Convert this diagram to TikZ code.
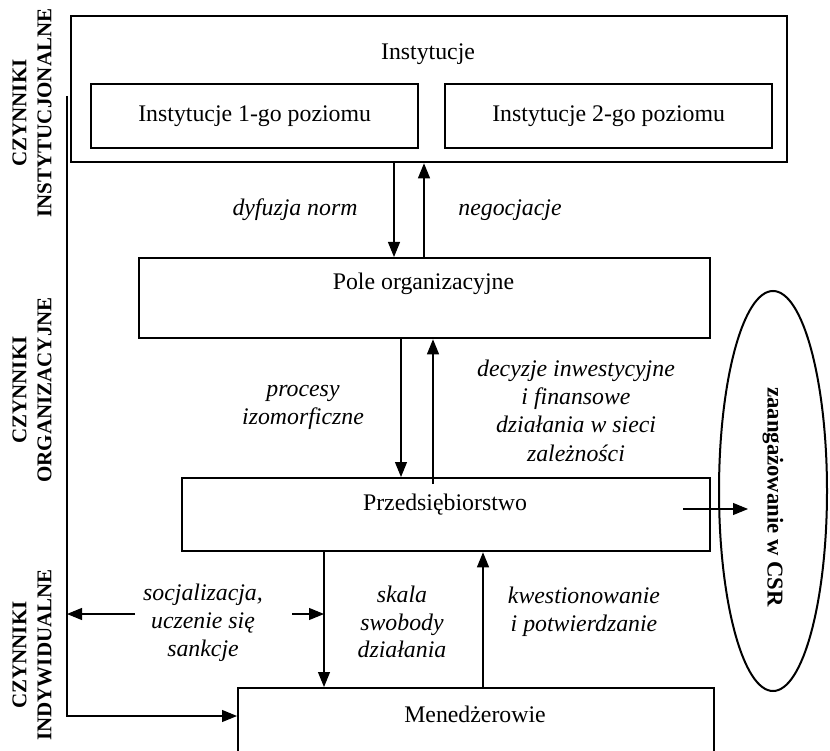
\documentclass[tikz,border=0pt]{standalone}
\usepackage{fontspec}
\setmainfont{Liberation Serif}
\usetikzlibrary{arrows.meta,shapes.geometric}
\begin{document}
\begin{tikzpicture}[x=1pt,y=-1pt,
  box/.style={draw, line width=2.3pt, rectangle, inner sep=0pt, anchor=north west,
              font=\fontsize{23.8}{28}\selectfont},
  txt/.style={inner sep=0pt, anchor=base, font=\fontsize{23.8}{28}\selectfont},
  itxt/.style={inner sep=0pt, anchor=base, font=\fontsize{23.8}{28}\selectfont\itshape},
  lab/.style={inner sep=0pt, align=center, rotate=90, font=\fontsize{21}{25}\selectfont\bfseries},
  arr/.style={line width=1.1pt, -{Triangle[length=15pt,width=12pt]}},
  ln/.style={line width=1.1pt}]
\useasboundingbox (0,0) rectangle (830,751);
\clip (0,0) rectangle (830,751);

% boxes
\node[box, minimum width=716pt, minimum height=146pt] (inst) at (70,15) {};
\node[box, minimum width=327pt, minimum height=64pt] (inst1) at (90,83) {Instytucje 1-go poziomu};
\node[box, minimum width=327pt, minimum height=64pt] (inst2) at (444,83) {Instytucje 2-go poziomu};
\node[box, minimum width=571pt, minimum height=80pt] (pole) at (138,257) {};
\node[box, minimum width=528pt, minimum height=73pt] (przed) at (181,477) {};
\node[box, minimum width=476pt, minimum height=120pt] (mened) at (237,687) {};
\node[draw, ellipse, line width=2pt, minimum width=108pt, minimum height=400pt, inner sep=0pt] (csr) at (773,491) {};

% box texts
\node[txt] (tinst) at (428,60) {Instytucje};
\node[txt] (tpole) at (423.5,290) {Pole organizacyjne};
\node[txt] (tprzed) at (445,510) {Przedsiębiorstwo};
\node[txt] (tmened) at (475,722) {Menedżerowie};
\node[inner sep=0pt, rotate=-90, font=\fontsize{22.7}{26}\selectfont\bfseries] (tcsr) at (773,497) {zaangażowanie w CSR};

% side labels
\node[lab] (l1) at (32,113) {CZYNNIKI\\INSTYTUCJONALNE};
\node[lab] (l2) at (32,390) {CZYNNIKI\\ORGANIZACYJNE};
\node[lab] (l3) at (32,655) {CZYNNIKI\\INDYWIDUALNE};

% connector labels
\node[itxt] (tdyf) at (295,216) {dyfuzja norm};
\node[itxt] (tneg) at (510,216) {negocjacje};
\node[itxt] (tpr1) at (303,396) {procesy};
\node[itxt] (tpr2) at (303,424) {izomorficzne};
\node[itxt] (td1) at (576,376) {decyzje inwestycyjne};
\node[itxt] (td2) at (576,404) {i finansowe};
\node[itxt] (td3) at (576,432) {działania w sieci};
\node[itxt] (td4) at (576,461) {zależności};
\node[itxt] (ts1) at (203,600) {socjalizacja,};
\node[itxt] (ts2) at (203,628) {uczenie się};
\node[itxt] (ts3) at (203,656) {sankcje};
\node[itxt] (tk1) at (402,602) {skala};
\node[itxt] (tk2) at (402,630) {swobody};
\node[itxt] (tk3) at (402,657) {działania};
\node[itxt] (tq1) at (584,603) {kwestionowanie};
\node[itxt] (tq2) at (584,631) {i potwierdzanie};

% connector coordinates
\coordinate (a1) at (394,0);
\coordinate (a2) at (424,0);
\coordinate (b1) at (401,0);
\coordinate (b2) at (433,0);
\coordinate (c1) at (324,0);
\coordinate (c2) at (483,0);
\coordinate (vtop) at (67,96);
\coordinate (vbot) at (67,716);
\coordinate (sl) at (135,614);
\coordinate (sr) at (292,614);
\coordinate (pout) at (683,509);
\coordinate (ptip) at (748,509);

% connectors
\draw[arr] (inst.south -| a1) -- (pole.north -| a1);
\draw[arr] (pole.north -| a2) -- (inst.south -| a2);
\draw[arr] (pole.south -| b1) -- (przed.north -| b1);
\draw[arr] (przed.north -| b2) ++(0,7) -- (pole.south -| b2);
\draw[arr] (przed.south -| c1) -- (mened.north -| c1);
\draw[arr] (mened.north -| c2) -- (przed.south -| c2);
\draw[arr] (vtop) -- (vbot) -- (vbot -| mened.west);
\draw[arr] (sl) -- (sl -| vtop);
\draw[arr] (sr) -- (sr -| c1);
\draw[arr] (pout) -- (ptip);
\end{tikzpicture}
\end{document}
